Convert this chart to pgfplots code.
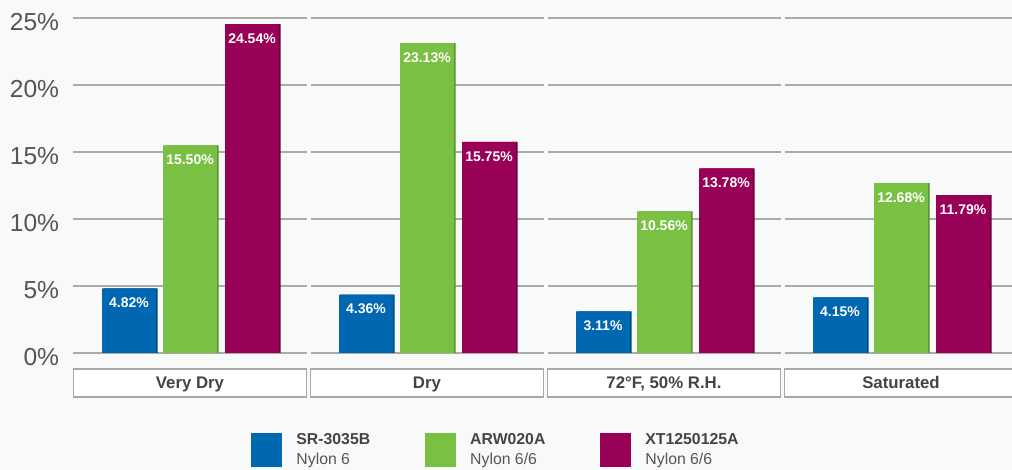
\documentclass[border=0pt]{standalone}
\usepackage{pgfplots}
\pgfplotsset{compat=1.18}
\usepackage{pgfplotstable}
\usepackage{fontspec}
\setmainfont{Liberation Sans}
\definecolor{bgc}{HTML}{F8FAFA}
\definecolor{gridc}{HTML}{AAAAAA}
\definecolor{boxc}{HTML}{A8A8A8}
\definecolor{cblue}{HTML}{0067B1}
\definecolor{cblued}{HTML}{00497E}
\definecolor{cgreen}{HTML}{7AC143}
\definecolor{cgreend}{HTML}{568F2E}
\definecolor{cpurp}{HTML}{990058}
\definecolor{cpurpd}{HTML}{6A003D}
\definecolor{txtd}{HTML}{444444}
\definecolor{txtm}{HTML}{555555}

\pgfplotstableread{
x sr arw xt
0 4.82 15.50 24.54
1 4.36 23.13 15.75
2 3.11 10.56 13.78
3 4.15 12.68 11.79
}\data

\pgfplotsset{
  mybar/.style={ybar, draw=none, bar width=27pt,
    legend image code/.code={\fill[##1] (0pt,-8.5pt) rectangle (15.5pt,8.5pt);}},
  mylabels/.style={point meta=y,
    nodes near coords={\pgfmathprintnumber[fixed,fixed zerofill,precision=2,assume math mode=true]{\pgfplotspointmeta}\%},
    every node near coord/.append style={anchor=north, inner sep=0pt, xshift=#1, yshift=-4.5pt, text=white, font=\fontsize{7}{8}\selectfont\bfseries}},
}

\begin{document}
\begin{tikzpicture}
\useasboundingbox (0,0) rectangle (506pt,235pt);
\fill[bgc] (0,0) rectangle (506pt,235pt);
\clip (0,0) rectangle (506pt,235pt);
\begin{axis}[
  at={(35.75pt,58.5pt)}, anchor=south west,
  scale only axis, width=474pt, height=167.5pt,
  xmin=-0.5, xmax=3.5, ymin=0, ymax=25,
  clip=false,
  axis line style={draw=none},
  major tick length=0pt,
  xtick={0,1,2,3},
  xticklabels={Very Dry, Dry, {72°F, 50\% R.H.}, Saturated},
  xticklabel style={anchor=center, yshift=-15pt, draw=boxc, fill=white, line width=0.6pt,
    minimum width=116.5pt, minimum height=14pt, inner sep=0pt, text height=6pt, text depth=0pt,
    font=\fontsize{8.4}{10}\selectfont\bfseries, text=txtd},
  ytick={0,5,...,25},
  yticklabel={\pgfmathprintnumber[assume math mode=true]{\tick}\%},
  yticklabel style={anchor=east, inner sep=0pt, xshift=-6pt, yshift=-2pt,
    font=\fontsize{12.3}{14}\selectfont, text=txtm},
  legend style={at={(0.1894,-0.2388)}, anchor=north west, draw=none, fill=none, inner sep=0pt,
    legend columns=3,
    nodes={inner sep=0pt, align=left, font=\fontsize{7.9}{10}\selectfont, text=txtm},
    /tikz/every odd column/.append style={column sep=7pt},
    /tikz/every even column/.append style={column sep=27.5pt}},
  legend cell align=left,
]
\pgfplotsinvokeforeach{0,5,10,15,20,25}{
  \draw[gridc, line width=1pt] (axis cs:-0.4937,#1) -- (axis cs:0.4937,#1)
    (axis cs:0.5085,#1) -- (axis cs:1.4937,#1)
    (axis cs:1.5085,#1) -- (axis cs:2.4937,#1)
    (axis cs:2.5085,#1) -- (axis cs:3.7,#1);
}
\addplot[mybar, bar shift=-29.75pt, fill=cblued, forget plot] table[x=x,y=sr]{\data};
\addplot[mybar, bar shift=0.75pt, fill=cgreend, forget plot] table[x=x,y=arw]{\data};
\addplot[mybar, bar shift=31.75pt, fill=cpurpd, forget plot] table[x=x,y=xt]{\data};
\addplot[mybar, bar shift=-30.5pt, fill=cblue, mylabels=-30.5pt] table[x=x,y=sr]{\data};
\addlegendentry{\textcolor{txtd}{\textbf{SR-3035B}}\\Nylon 6}
\addplot[mybar, bar shift=0pt, fill=cgreen, mylabels=0pt] table[x=x,y=arw]{\data};
\addlegendentry{\textcolor{txtd}{\textbf{ARW020A}}\\Nylon 6/6}
\addplot[mybar, bar shift=31pt, fill=cpurp, mylabels=31pt] table[x=x,y=xt]{\data};
\addlegendentry{\textcolor{txtd}{\textbf{XT1250125A}}\\Nylon 6/6}
\end{axis}
\end{tikzpicture}
\end{document}
